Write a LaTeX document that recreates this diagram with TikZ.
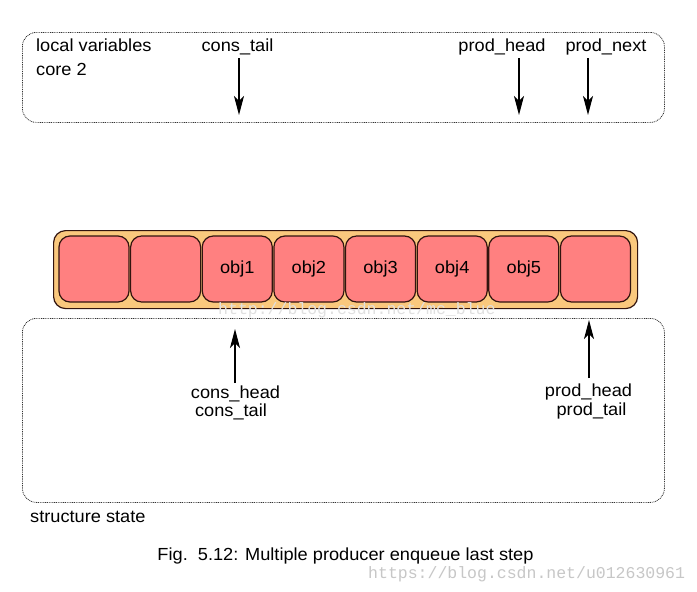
\documentclass[tikz,border=0pt]{standalone}
\usepackage{fontspec}
\setmainfont{Liberation Sans}[FakeStretch=1.04]
\newfontfamily\wmfont{Liberation Mono}
\usetikzlibrary{arrows.meta}
\definecolor{ringfill}{RGB}{250,200,125}
\definecolor{cellfill}{RGB}{255,128,128}
\definecolor{celldraw}{RGB}{50,20,15}
\begin{document}
\begin{tikzpicture}[x=1pt,y=-1pt, font=\fontsize{17.5}{20}\selectfont,
 dotbox/.style={draw=black!80, line width=0.8pt, dash pattern=on 0.9pt off 0.9pt, rounded corners=14pt, inner sep=0pt, anchor=north west},
 cell/.style={draw=celldraw, line width=1.2pt, fill=cellfill, rounded corners=11pt, minimum width=70pt, minimum height=66pt, inner sep=0pt},
 ptr/.style={-{Stealth[length=19pt,width=10pt,inset=5pt]}, line width=1.2pt},
 lbl/.style={inner sep=0pt, anchor=base},
 lbll/.style={inner sep=0pt, anchor=base west},
 wm/.style={inner sep=0pt, anchor=base west, font=\wmfont\fontsize{16.5}{19}\selectfont}]
\useasboundingbox (0,0) rectangle (697,592);
\fill[white] (0,0) rectangle (697,592);
% local variables box
\node[dotbox, minimum width=642pt, minimum height=90pt] (localbox) at (22,32) {};
\node[lbll] (lv) at (36,51) {local variables};
\node[lbll] (core) at (36,75) {core 2};
\node[lbl] (lct) at (237.5,51.5) {cons\_tail};
\node[lbl] (lph) at (502,51.5) {prod\_head};
\node[lbl] (lpn) at (606,51.5) {prod\_next};
\coordinate (ct0) at (239,58); \coordinate (ct1) at (239,115);
\coordinate (ph0) at (519,58); \coordinate (ph1) at (519,115);
\coordinate (pn0) at (588,58); \coordinate (pn1) at (588,115);
\draw[ptr] (ct0) -- (ct1);
\draw[ptr] (ph0) -- (ph1);
\draw[ptr] (pn0) -- (pn1);
% ring
\node[draw=celldraw, fill=ringfill, line width=1.2pt, rounded corners=12pt, minimum width=584pt, minimum height=78pt, inner sep=0pt, anchor=north west] (ring) at (53,230) {};
\foreach \i/\t in {1/,2/,3/obj1,4/obj2,5/obj3,6/obj4,7/obj5,8/}
  \node[cell] (c\i) at ({94+(\i-1)*71.64},269) {\raisebox{2pt}{\t}};
% faint watermark
\node[wm, text=black!12] (wm1) at (218,314) {http://blog.csdn.net/mc\_blue};
% structure state box
\node[dotbox, minimum width=642pt, minimum height=184pt] (statebox) at (22,318) {};
\node[lbl] (lch) at (235.5,398) {cons\_head};
\node[lbl] (lctb) at (231,416) {cons\_tail};
\node[lbl] (lphb) at (588.5,396) {prod\_head};
\node[lbl] (lptb) at (591.5,415) {prod\_tail};
\coordinate (ch0) at (235,383); \coordinate (ch1) at (235,329);
\coordinate (pb0) at (589,378); \coordinate (pb1) at (589,320);
\draw[ptr] (ch0) -- (ch1);
\draw[ptr] (pb0) -- (pb1);
\node[lbll] (ss) at (30,522) {structure state};
\node[lbl] (cap) at (345.5,560) {Fig.\ \ 5.12: Multiple producer enqueue last step};
\node[wm, text=black!22] (wm2) at (368,578) {https://blog.csdn.net/u012630961};
\end{tikzpicture}
\end{document}
